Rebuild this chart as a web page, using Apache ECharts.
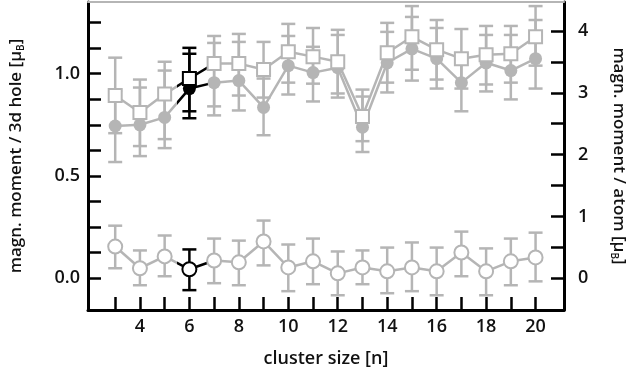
<!DOCTYPE html>
<html>
<head>
<meta charset="utf-8">
<script src="https://cdn.jsdelivr.net/npm/echarts@6/dist/echarts.min.js"></script>
<style>
  html, body { margin: 0; padding: 0; background: #fff; }
  #chart { width: 635px; height: 373px; }
</style>
</head>
<body>
<div id="chart"></div>
<script>
// cluster sizes
const clusterSizes = [3, 4, 5, 6, 7, 8, 9, 10, 11, 12, 13, 14, 15, 16, 17, 18, 19, 20];

// open squares (upper series)
const squareValues = [0.893, 0.81, 0.90, 0.976, 1.049, 1.049, 1.02, 1.107, 1.083, 1.058, 0.791, 1.102, 1.180, 1.117, 1.073, 1.092, 1.097, 1.180];
const squareHigh = [1.078, 0.971, 1.058, 1.126, 1.184, 1.194, 1.155, 1.243, 1.223, 1.214, 0.922, 1.248, 1.330, 1.262, 1.218, 1.233, 1.233, 1.330];
const squareLow = [0.709, 0.646, 0.680, 0.816, 0.840, 0.893, 0.883, 0.956, 0.951, 0.903, 0.670, 0.956, 1.019, 0.971, 0.927, 0.947, 0.956, 1.039];

// filled circles
const circleValues = [0.744, 0.75, 0.786, 0.927, 0.956, 0.966, 0.835, 1.039, 1.005, 1.029, 0.738, 1.053, 1.121, 1.073, 0.956, 1.053, 1.015, 1.073];
const circleHigh = [0.917, 0.932, 1.015, 1.097, 1.150, 1.155, 0.976, 1.184, 1.131, 1.189, 0.888, 1.204, 1.277, 1.223, 1.097, 1.189, 1.189, 1.262];
const circleLow = [0.568, 0.597, 0.636, 0.782, 0.796, 0.820, 0.699, 0.898, 0.864, 0.883, 0.617, 0.908, 0.966, 0.927, 0.816, 0.913, 0.874, 0.927];

// open circles (bottom series)
const openValues = [0.155, 0.049, 0.107, 0.044, 0.087, 0.078, 0.180, 0.053, 0.083, 0.024, 0.053, 0.034, 0.053, 0.034, 0.126, 0.034, 0.083, 0.102];
const openHigh = [0.257, 0.136, 0.209, 0.141, 0.194, 0.184, 0.282, 0.165, 0.194, 0.131, 0.136, 0.150, 0.175, 0.150, 0.228, 0.146, 0.194, 0.223];
const openLow = [0.049, -0.034, 0.010, -0.058, -0.024, -0.034, 0.063, -0.063, -0.029, -0.083, -0.029, -0.073, -0.063, -0.083, 0.010, -0.083, -0.034, -0.015];

// ticks and labels
const xTicks = [3, 4, 5, 6, 7, 8, 9, 10, 11, 12, 13, 14, 15, 16, 17, 18, 19, 20];
const xLabels = [4, 6, 8, 10, 12, 14, 16, 18, 20];
const leftTicks = [0, 0.125, 0.25, 0.375, 0.5, 0.625, 0.75, 0.875, 1.0, 1.125, 1.25];
const leftLabels = [0, 0.5, 1.0];
const rightTicks = [0, 0.5, 1, 1.5, 2, 2.5, 3, 3.5, 4];
const rightLabels = [0, 1, 2, 3, 4];

const GRAY = '#b5b5b5';
const BLACK = '#000';
const FONT = 'Open Sans';
const leftMin = -0.155, leftMax = 1.35, ratio = 3.31;

const pairs = (vals) => clusterSizes.map((n, i) => [n, vals[i]]);
const bars = (lo, hi) => clusterSizes.map((n, i) => [n, lo[i], hi[i]]);

function renderErr(params, api) {
  const x = api.value(0);
  const a = api.coord([x, api.value(1)]);
  const b = api.coord([x, api.value(2)]);
  const style = { stroke: x === 6 ? BLACK : GRAY, lineWidth: 2.5 };
  const w = 7;
  return {
    type: 'group',
    children: [
      { type: 'line', shape: { x1: a[0], y1: a[1], x2: b[0], y2: b[1] }, style },
      { type: 'line', shape: { x1: a[0] - w, y1: a[1], x2: a[0] + w, y2: a[1] }, style },
      { type: 'line', shape: { x1: b[0] - w, y1: b[1], x2: b[0] + w, y2: b[1] }, style },
    ],
  };
}

function errSeries(lo, hi) {
  return {
    type: 'custom',
    renderItem: renderErr,
    data: bars(lo, hi),
    encode: { x: 0, y: [1, 2] },
    z: 1,
    silent: true,
  };
}

const axisLineStyle = { color: BLACK, width: 3 };
const tickStyle = { lineStyle: { color: BLACK, width: 2.5 } };
const labelStyle = { fontFamily: FONT, fontSize: 18, fontWeight: 600, color: '#111' };
const nameStyle = {
  fontFamily: FONT, fontSize: 17, fontWeight: 600, color: '#111',
  rich: { sub: { fontFamily: FONT, fontSize: 10, fontWeight: 600, color: '#111', padding: [9, 0, 0, 0] } },
};

const chart = echarts.init(document.getElementById('chart'));
chart.setOption({
  animation: false,
  backgroundColor: '#fff',
  grid: { left: 85, right: 63, top: 2, bottom: 61 },
  xAxis: [
    {
      type: 'value',
      min: 1.9,
      max: 21.15,
      name: 'cluster size [n]',
      nameLocation: 'middle',
      nameGap: 40,
      nameTextStyle: { fontFamily: FONT, fontSize: 18, fontWeight: 600, color: '#111' },
      axisLine: { onZero: false, lineStyle: axisLineStyle },
      axisTick: { inside: true, length: 13, customValues: xTicks, ...tickStyle },
      axisLabel: { customValues: xLabels, margin: 8, ...labelStyle },
      splitLine: { show: false },
    },
    {
      type: 'value',
      position: 'top',
      min: 1.9,
      max: 21.15,
      axisLine: { show: true, onZero: false, lineStyle: { color: GRAY, width: 2 } },
      axisTick: { show: false },
      axisLabel: { show: false },
      splitLine: { show: false },
    },
  ],
  yAxis: [
    {
      type: 'value',
      min: leftMin,
      max: leftMax,
      name: 'magn. moment / 3d hole [μ{sub|B}]',
      nameLocation: 'middle',
      nameGap: 62,
      nameTextStyle: nameStyle,
      axisLine: { show: true, onZero: false, lineStyle: axisLineStyle },
      axisTick: { inside: true, length: 13, customValues: leftTicks, ...tickStyle },
      axisLabel: { customValues: leftLabels, margin: 8, formatter: (v) => v.toFixed(1), ...labelStyle },
      splitLine: { show: false },
    },
    {
      type: 'value',
      position: 'right',
      min: leftMin * ratio,
      max: leftMax * ratio,
      name: 'magn. moment / atom [μ{sub|B}]',
      nameLocation: 'middle',
      nameRotate: -90,
      nameGap: 45,
      nameTextStyle: nameStyle,
      axisLine: { show: true, onZero: false, lineStyle: axisLineStyle },
      axisTick: { inside: true, length: 13, customValues: rightTicks, ...tickStyle },
      axisLabel: { customValues: rightLabels, margin: 14, ...labelStyle },
      splitLine: { show: false },
    },
  ],
  visualMap: {
    type: 'piecewise',
    show: false,
    dimension: 0,
    seriesIndex: [0, 1, 2],
    pieces: [
      { lt: 5.5, color: GRAY },
      { gte: 5.5, lt: 6.75, color: BLACK },
      { gte: 6.75, color: GRAY },
    ],
  },
  series: [
    {
      type: 'line',
      data: pairs(circleValues),
      symbol: 'circle',
      symbolSize: 13,
      lineStyle: { width: 2.5 },
      z: 3,
    },
    {
      type: 'line',
      data: pairs(squareValues),
      symbol: 'emptyRect',
      symbolSize: 13,
      itemStyle: { borderWidth: 2 },
      lineStyle: { width: 2.5 },
      z: 4,
    },
    {
      type: 'line',
      data: pairs(openValues),
      symbol: 'emptyCircle',
      symbolSize: 14,
      itemStyle: { borderWidth: 2 },
      lineStyle: { width: 2.5 },
      z: 3,
    },
    errSeries(squareLow, squareHigh),
    errSeries(circleLow, circleHigh),
    errSeries(openLow, openHigh),
  ],
});
</script>
</body>
</html>
